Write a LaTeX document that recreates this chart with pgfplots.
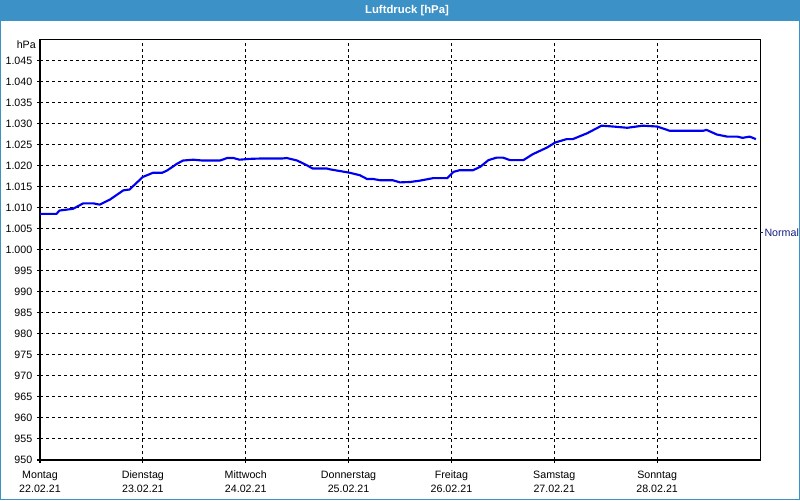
\documentclass[border=0pt]{standalone}
\usepackage{fontspec}
\setmainfont{Liberation Sans}
\usepackage{pgfplots}
\pgfplotsset{compat=1.18}
\definecolor{barblue}{RGB}{60,145,198}
\definecolor{lineblue}{RGB}{0,0,240}
\definecolor{normaltext}{RGB}{20,30,130}
\begin{document}
\begin{tikzpicture}
\useasboundingbox (0pt,0pt) rectangle (600pt,375pt);
\begin{scope}[x=0.75pt,y=0.75pt]
\fill[white] (0,0) rectangle (800,500);
\fill[barblue] (0,479) rectangle (800,500);
\draw[barblue, line width=0.75pt] (0.5,0.5) rectangle (799.5,499.5);
\node[white,font=\bfseries\fontsize{8.5}{10}\selectfont] at (407,489.5) {Luftdruck [hPa]};
\end{scope}
\begin{axis}[
  at={(30pt,30pt)}, anchor=south west,
  scale only axis, width=540pt, height=315pt,
  xmin=0, xmax=7, ymin=950, ymax=1050,
  xtick={0,1,2,3,4,5,6},
  xticklabels={{Montag\\22.02.21},{Dienstag\\23.02.21},{Mittwoch\\24.02.21},{Donnerstag\\25.02.21},{Freitag\\26.02.21},{Samstag\\27.02.21},{Sonntag\\28.02.21}},
  xticklabel style={align=center, font=\fontsize{8}{10.5}\selectfont, yshift=-2.5pt},
  ytick={950,955,...,1045},
  yticklabel style={font=\fontsize{8}{9.6}\selectfont, /pgf/number format/1000 sep={.}},
  /pgf/number format/assume math mode=true,
  grid=major,
  major grid style={black, dash pattern=on 2.25pt off 2.25pt, line width=0.75pt},
  axis line style={black, line width=0.75pt},
  tick style={black, line width=0.75pt},
  tick align=outside, major tick length=2.25pt,
  xtick pos=bottom, ytick pos=left,
  clip=false,
]
\addplot[lineblue, line width=1.6pt, line join=round] coordinates {
(0.00,1008.6) (0.16,1008.6) (0.19,1009.4) (0.32,1009.8) (0.42,1011.1) (0.52,1011.1)
(0.58,1010.8) (0.68,1012.0) (0.81,1014.2) (0.87,1014.4) (1.00,1017.4) (1.10,1018.4)
(1.19,1018.4) (1.24,1019.0) (1.33,1020.5) (1.39,1021.3) (1.49,1021.5) (1.58,1021.3)
(1.75,1021.3) (1.82,1021.9) (1.88,1021.9) (1.94,1021.5) (2.04,1021.7) (2.17,1021.8)
(2.36,1021.8) (2.40,1021.9) (2.50,1021.3) (2.60,1020.1) (2.65,1019.4) (2.79,1019.4)
(2.82,1019.2) (3.01,1018.4) (3.11,1017.8) (3.18,1016.9) (3.24,1016.9) (3.31,1016.6)
(3.43,1016.6) (3.50,1016.1) (3.60,1016.2) (3.69,1016.5) (3.82,1017.1) (3.96,1017.1)
(4.02,1018.6) (4.08,1019.0) (4.21,1019.0) (4.28,1019.8) (4.36,1021.4) (4.44,1022.0)
(4.50,1022.0) (4.57,1021.4) (4.70,1021.4) (4.79,1022.8) (4.93,1024.4) (5.01,1025.6)
(5.12,1026.4) (5.18,1026.4) (5.32,1027.8) (5.46,1029.6) (5.57,1029.4) (5.71,1029.1)
(5.86,1029.6) (6.00,1029.4) (6.12,1028.4) (6.25,1028.4) (6.45,1028.4) (6.48,1028.6)
(6.58,1027.5) (6.68,1027.0) (6.78,1027.0) (6.83,1026.7) (6.90,1027.0) (6.96,1026.4)
};
\node[anchor=east, inner sep=0pt, xshift=-3pt, font=\fontsize{8}{9.6}\selectfont] at (axis cs:0,1048.8) {hPa};
\draw[normaltext, line width=0.75pt] (axis cs:7,1004.2) -- ++(2.25pt,0pt) node[anchor=west, inner sep=0.75pt, text=normaltext, font=\fontsize{8}{9.6}\selectfont] {Normal};
\end{axis}
\end{tikzpicture}
\end{document}
